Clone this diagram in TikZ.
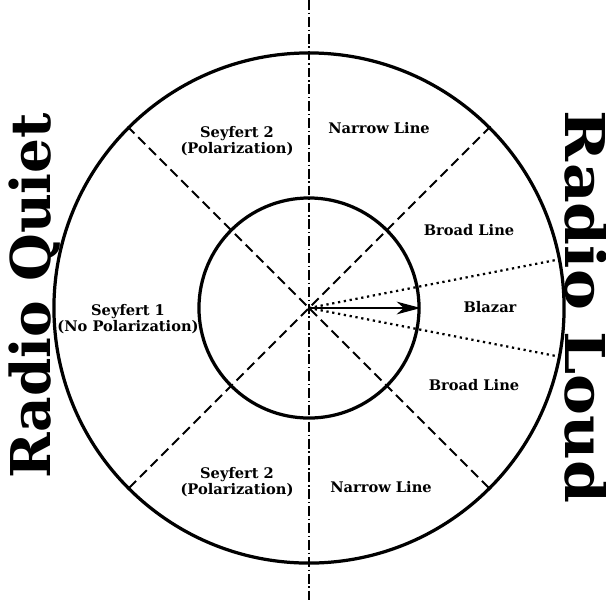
\documentclass[tikz,border=0pt]{standalone}
\usepackage{fontspec}
\usepackage{tikz}
\usetikzlibrary{arrows.meta}
\newfontfamily\labelfont{DejaVu Serif}
\tikzset{lbl/.style={font=\labelfont\bfseries\fontsize{10.4}{11}\selectfont,align=center},
  side/.style={font=\labelfont\bfseries\fontsize{39}{39}\selectfont,inner sep=0pt},
  ring/.style={circle,draw,line width=2.3pt,inner sep=0pt}}
\begin{document}
\begin{tikzpicture}[x=0.025cm,y=-0.025cm,>={Stealth[length=17pt,width=9pt,inset=5pt]}]
\useasboundingbox(0,0)rectangle(606,601);
\coordinate(c)at(309,308);
\coordinate(top)at(309,0);
\coordinate(bot)at(309,601);
% rings
\node[ring,minimum size=12.75cm](outer)at(c){};
\node[ring,minimum size=5.5cm](inner)at(c){};
% axis and sector borders
\draw[line width=0.8pt,dash pattern=on 7pt off 2pt on 1pt off 2pt](top)--(bot);
\draw[line width=1.3pt,dash pattern=on 7pt off 3.8pt](outer.135)--(outer.-45)
(outer.45)--(outer.-135);
\draw[line width=1.6pt,dash pattern=on 1.6pt off 2.6pt](c)--(outer.11.5)(c)--(outer.-11.5);
\draw[->,line width=1.8pt](c)--(inner.east);
% labels
\node[lbl](sey2a)at(237,141){Seyfert 2\\(Polarization)};
\node[lbl](nar1)at(379,128){Narrow Line};
\node[lbl](brd1)at(469,230){Broad Line};
\node[lbl](blz)at(490,307){Blazar};
\node[lbl](brd2)at(474,385){Broad Line};
\node[lbl](nar2)at(381,487){Narrow Line};
\node[lbl](sey2b)at(237,482){Seyfert 2\\(Polarization)};
\node[lbl](sey1)at(128,319){Seyfert 1\\(No Polarization)};
\node[side,rotate=90](rq)at(35,296){Radio Quiet};
\node[side,rotate=-90,xscale=1.12](rl)at(586,307){Radio Loud};
\end{tikzpicture}
\end{document}
